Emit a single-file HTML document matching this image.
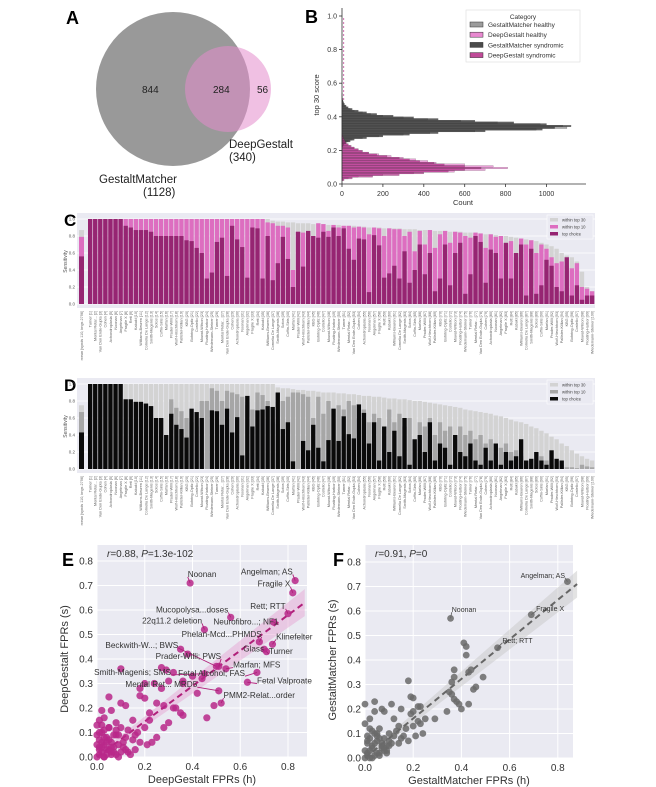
<!DOCTYPE html>
<html><head><meta charset="utf-8"><style>
html,body{margin:0;padding:0;background:#fff;}
svg{display:block;font-family:"Liberation Sans","DejaVu Sans",sans-serif;}
</style></head><body>
<svg id="fig" width="656" height="787" viewBox="0 0 656 787" xmlns="http://www.w3.org/2000/svg">
<g id="venn">
<text x="66" y="24" font-size="18" font-weight="bold">A</text>
<circle cx="173" cy="89" r="77" fill="#999999"/>
<circle cx="228" cy="89" r="43" fill="#e48ccc" opacity="0.55"/>
<text x="142" y="93" font-size="10" fill="#222">844</text>
<text x="213" y="93" font-size="10" fill="#222">284</text>
<text x="257" y="93" font-size="10" fill="#222">56</text>
<text x="229" y="148" font-size="11.5" fill="#222">DeepGestalt</text>
<text x="229" y="161" font-size="11.5" fill="#222">(340)</text>
<text x="99" y="183" font-size="11.5" fill="#222">GestaltMatcher</text>
<text x="143" y="196" font-size="11.5" fill="#222">(1128)</text>
</g>
<g id="hist"></g>
<g id="barC"></g>
<g id="barD"></g>
<g id="scE"></g>
<g id="scF"></g>
</svg>
<script>
// ---------- Panel B data ----------
const histBinWidth = 0.01;
const gmHealthyStart = 0.22;
const gmHealthy = [3,8,15,30,50,100,180,300,430,650,950,1100,1080,970,760,580,420,300,200,140,100,60,40,25,15,10,6,4,2,1,1,1];
const gmSyndStart = 0.22;
const gmSynd = [5,10,20,40,60,120,200,330,470,700,980,1040,1120,1000,840,650,470,350,250,170,120,80,50,30,20,12,8,5,3,2,1,1];
const dgHealthyStart = 0.02;
const dgHealthy = [5,30,80,200,350,550,700,810,740,600,460,420,360,300,240,180,130,100,80,60,40,30,20,12,8,5,3,2];
const dgSyndStart = 0.02;
const dgSynd = [10,50,150,280,400,520,600,680,600,500,450,380,330,280,220,170,130,100,80,60,45,30,20,15,10,6,4,2];
const histXTicks = [0,200,400,600,800,1000];
const histYTicks = [0.0,0.2,0.4,0.6,0.8,1.0];
const histLegend = ["GestaltMatcher healthy","DeepGestalt healthy","GestaltMatcher syndromic","DeepGestalt syndromic"];

// ---------- Panel C data ----------
const meanC = [0.87,0.79,0.56];
const t30C = [1,1,1,1,1,1,1,1,1,1, 1,1,1,1,1,1,1,1,1,1, 1,1,1,1,1,1,1,1,1,1, 1,1,1,1,1,1, .98,.97,.97,.96,.96,.95,.95,.95,.94,.94, .94,.93,.93,.93,.92,.92,.92,.91,.91,.9, .9,.9,.89,.89, .89,.89,.88,.88,.88,.87,.87,.87,.86,.86,.86,.85,.85,.85,.84,.84,.83,.83,.82,.82, .81,.8,.8,.79,.78,.77,.76,.75,.74,.72,.7,.68,.65,.6,.57,.55,.5,.38,.2,.15];
const t10C = [1,1,1,1,1,1,1,1,1,1, 1,1,1,1,1,1,1,1,1,1, 1,1,1,1,1,1,1,1,1,1, 1,1,1,1,1,.96,.95,.92,.92,.9, .4,.85,.84,.82,.8,.95,.94,.86,.93,.9, .92,.92,.9,.91,.9,.82,.9,.89,.8,.89, .88,.88,.8,.85,.62,.86,.7,.87,.66,.82, .86,.72,.85,.84,.8,.78,.84,.83,.66,.82, .79,.8,.7,.74,.55,.77,.7,.75,.6,.7, .65,.55,.48,.5,.45,.42,.48,.2,.18,.15];
const t1C = [1,1,1,1,1,1,1,.92,.9,.87, .87,.87,.85,.8,.8,.8,.8,.8,.8,.75, .74,.66,.6,.3,.37,.73,.78,.33,.92,.76, .67,.31,.9,.89,.3,.8,.28,.48,.79,.53, .2,.85,.44,.86,.8,.78,.85,.79,.9,.8, .89,.65,.52,.77,.76,.14,.81,.69,.31,.36, .45,.3,.62,.25,.4,.7,.35,.6,.15,.3, .7,.22,.6,.72,.12,.35,.8,.73,.25,.64, .6,.3,.72,.3,.6,.7,.1,.65,.12,.22, .52,.45,.2,.15,.55,.1,.22,.05,.1,.1];

// ---------- Panel D data ----------
const meanD = [0.75,0.67,0.43];
const t30D = [1,1,1,1,1,1,1,1,1,1, 1,1,1,1,1,1,1,1,1,1, 1,1,1,1,1,1,1,1,1,1, 1,1,1,1,1,1,1, .96,.95,.95,.94,.93,.93,.92,.92,.91,.9, .9,.9,.89,.89,.88,.88,.87,.86,.86,.85, .85,.84,.83,.83,.82,.82,.81,.8,.8,.79, .78,.77,.76,.75,.74,.73,.72,.7,.69,.68, .67,.66,.65,.63,.62,.6,.58,.56,.55,.53, .5,.48,.45,.42,.38,.35,.3,.27,.22,.18, .15,.12,.1];
const t10D = [1,1,1,1,1,1,1,.82,.82,.79, .79,.77,.74,.6,.6,.4,.82,.72,.68,.6, .55,.5,.8,.8,.95,.92,.8,.92,.9,.88, .85,.75,.7,.9,.87,.8,.55, .53,.8,.85,.9,.9,.88,.85,.6,.85,.65, .8,.7,.75,.7,.8,.75,.6,.7,.55,.65, .6,.5,.7,.55,.65,.5,.6,.3,.55,.5, .6,.4,.55,.45,.5,.35,.5,.4,.45,.35, .4,.3,.35,.3,.25,.3,.2,.22,.15,.1, .1,.05,.15,.1,.05,.08,.05,.02,.02,.01, .05,.03,.02];
const t1D = [1,1,1,1,1,1,1,.82,.82,.79, .79,.77,.74,.6,.6,.4,.65,.52,.47,.37, .71,.67,.6,0,.69,.68,.52,.71,.43,.61, .16,.86,.5,.69,.7,.74,.73, .9,.47,.55,.09,0,.33,.22,.52,.25,.09, .34,.71,.33,.62,.41,.36,.76,.66,.3,.55, .1,.5,.2,.45,.15,.6,.05,.35,.4,.2, .55,.1,.3,.25,.05,.4,.2,.15,.3,.1, .05,.25,.1,.3,.05,.2,.1,.15,.35,.1, .12,.2,.1,.05,.22,.12,.1,0,0,0, 0,0,0];
const sensTicks = [0.0,0.2,0.4,0.6,0.8,1.0];
const syndromeNames = ["Turner","Mental Retar...","Van Den Ende-Gupta","Cohen","Achondroplasia","Noonan","Angelman","Fragile X","Rett","Kabuki","Williams-Beuren","Cornelia De Lange","Smith-Magenis","Sotos","Coffin-Siris","Marfan","Prader-Willi","Wolf-Hirschhorn","Pallister-Killian","KBG","Bohring-Opitz","Costello","Mowat-Wilson","Floating-Harbor","Wiedemann-Steiner"];

// ---------- Panel E data ----------
const eH = [0.35,0.38,0.27,0.29,0.32,0.10,0.24,0.20,0.36,0.36,0.44,0.30,0.18,0.20,0.05,0.18,0.25,0.28,0.32,0.49,0.35,0.36,0.46,0.28,0.22,0.12,0.10,0.22,0.15,0.13,0.20,0.17,0.25,0.23,0.06,0.02,0.03,0.08,0.10,0.05,0.08,0.12,0.15,0.18,0.02,0.04,0.06,0.03,0.01,0.02,0.05,0.07,0.09,0.11,0.01,0.03,0.00,0.01,0.04,0.06,0.08,0.10,0.12,0.02,0.05,0.07,0.00,0.01,0.03,0.09,0.14,0.16,0.00,0.00,0.02,0.04,0.06,0.01,0.03,0.05,0.02,0.07,0.04,0.01,0.09,0.11,0.13,0.03,0.06,0.08,0.27,0.33,0.40,0.16,0.21,0.42,0.30];
const eS = [0.44,0.42,0.365,0.355,0.345,0.36,0.30,0.30,0.31,0.30,0.32,0.31,0.28,0.24,0.245,0.25,0.22,0.21,0.20,0.21,0.18,0.17,0.16,0.12,0.15,0.21,0.22,0.18,0.15,0.11,0.12,0.10,0.08,0.06,0.19,0.19,0.16,0.14,0.12,0.12,0.09,0.08,0.07,0.06,0.10,0.08,0.06,0.05,0.04,0.02,0.03,0.04,0.05,0.04,0.07,0.11,0.13,0.01,0.01,0.02,0.01,0.02,0.03,0.06,0.07,0.09,0.00,0.03,0.00,0.00,0.01,0.03,0.05,0.09,0.04,0.03,0.01,0.10,0.08,0.12,0.13,0.02,0.06,0.15,0.09,0.06,0.02,0.00,0.04,0.11,0.28,0.20,0.33,0.09,0.05,0.26,0.14];
const eNames = ["Noonan","Angelman; AS","Fragile X","Rett; RTT","Mucopolysa...doses","22q11.2 deletion","Neurofibro...; NF1","Phelan-Mcd...PHMDS","Klinefelter","Glass","Turner","Beckwith-W...; BWS","Prader-Willi; PWS","Marfan; MFS","Smith-Magenis; SMS","Fetal Alcohol; FAS","Fetal Valproate","Mental Ret... MRD5","PMM2-Relat...order"];
const eNamedH = [0.39,0.83,0.82,0.80,0.56,0.45,0.74,0.68,0.735,0.70,0.71,0.50,0.51,0.54,0.45,0.67,0.63,0.51,0.52];
const eNamedS = [0.71,0.72,0.67,0.585,0.57,0.52,0.55,0.47,0.46,0.44,0.43,0.37,0.37,0.36,0.34,0.345,0.305,0.27,0.22];
const eLabelX = [0.38,0.82,0.81,0.79,0.55,0.44,0.76,0.69,0.75,0.70,0.72,0.34,0.52,0.57,0.31,0.62,0.67,0.42,0.53];
const eLabelY = [0.735,0.745,0.695,0.605,0.59,0.545,0.54,0.49,0.48,0.43,0.42,0.445,0.40,0.365,0.335,0.33,0.30,0.285,0.24];
const eLabelAnchor = ["start","end","end","end","end","end","end","end","start","end","start","end","end","start","end","end","start","end","start"];
const eReg = [0.0,0.0,0.87,0.63];

// ---------- Panel F data ----------
const fH = [0.41,0.42,0.42,0.37,0.43,0.44,0.49,0.37,0.36,0.46,0.45,0.35,0.36,0.37,0.38,0.39,0.43,0.40,0.34,0.29,0.18,0.19,0.20,0.22,0.23,0.20,0.19,0.22,0.23,0.24,0.21,0.15,0.11,0.07,0.04,0.00,0.04,0.08,0.14,0.12,0.17,0.16,0.18,0.14,0.10,0.08,0.05,0.02,0.06,0.09,0.03,0.01,0.02,0.04,0.06,0.08,0.10,0.12,0.00,0.01,0.03,0.05,0.07,0.09,0.11,0.02,0.04,0.06,0.00,0.01,0.03,0.05,0.07,0.13,0.15,0.02,0.00,0.01,0.04,0.06,0.08,0.10,0.03,0.05,0.01,0.02,0.07,0.09,0.20,0.25];
const fS = [0.47,0.455,0.42,0.36,0.35,0.36,0.33,0.33,0.31,0.29,0.28,0.27,0.26,0.24,0.23,0.22,0.22,0.20,0.19,0.16,0.315,0.25,0.245,0.21,0.21,0.19,0.18,0.15,0.14,0.10,0.09,0.20,0.22,0.20,0.23,0.22,0.19,0.19,0.13,0.16,0.12,0.09,0.07,0.06,0.10,0.08,0.10,0.16,0.12,0.05,0.05,0.02,0.03,0.06,0.08,0.04,0.07,0.09,0.00,0.01,0.04,0.02,0.05,0.03,0.06,0.08,0.10,0.01,0.03,0.06,0.00,0.07,0.04,0.11,0.08,0.12,0.14,0.09,0.01,0.02,0.03,0.05,0.11,0.09,0.07,0.00,0.06,0.02,0.13,0.16];
const fNames = ["Angelman; AS","Noonan","Fragile X","Rett; RTT"];
const fNamedH = [0.84,0.355,0.69,0.55];
const fNamedS = [0.72,0.57,0.585,0.45];
const fLabelX = [0.83,0.36,0.71,0.57];
const fLabelY = [0.735,0.595,0.6,0.47];
const fLabelAnchor = ["end","start","start","start"];
const fReg = [0.0,0.0,0.88,0.71];
const fprTicks = [0.0,0.1,0.2,0.3,0.4,0.5,0.6,0.7,0.8];
const fprXTicks = [0.0,0.2,0.4,0.6,0.8];

const NS = "http://www.w3.org/2000/svg";
function mk(parent, tag, attrs, text){
  const el = document.createElementNS(NS, tag);
  for (const k in attrs) el.setAttribute(k, attrs[k]);
  if (text !== undefined) el.textContent = text;
  parent.appendChild(el);
  return el;
}

// ================= Panel B =================
(function(){
  const g = document.getElementById('hist');
  const x0 = 342, xPer = 0.2045, y0 = 184, yPer = 168;
  const X = v => x0 + v*xPer;
  const Y = v => y0 - v*yPer;
  const t = mk(g,'text',{x:305,y:23,'font-size':18,'font-weight':'bold'},'B');
  
  
  function series(arr, start, fill, op, name){
    arr.forEach((v,i)=>{
      const lo = start + i*histBinWidth;
      const r = mk(g,'rect',{x:X(0),y:Y(lo+histBinWidth),width:Math.max(0,X(v)-X(0)),height:yPer*histBinWidth,fill:fill,opacity:op,stroke:'#333','stroke-width':0.2});
      
      
    });
  }
  series(gmHealthy, gmHealthyStart, '#9c9c9c', 0.85, 'hist-bar-gm-healthy');
  series(dgHealthy, dgHealthyStart, '#e889d0', 0.8, 'hist-bar-dg-healthy');
  series(gmSynd, gmSyndStart, '#3c3c3c', 0.8, 'hist-bar-gm-syndromic');
  series(dgSynd, dgSyndStart, '#b02a86', 0.7, 'hist-bar-dg-syndromic');
  mk(g,'line',{x1:X(8),y1:Y(0.5),x2:X(8),y2:Y(1.0),stroke:'#d070b0','stroke-width':1,'stroke-dasharray':'2,2'});
  const ax = mk(g,'path',{d:`M${x0},8 V${y0} H586`,stroke:'#333','stroke-width':0.8,fill:'none'});
  
  
  histXTicks.forEach(v=>{
    mk(g,'line',{x1:X(v),y1:y0,x2:X(v),y2:y0+3,stroke:'#333','stroke-width':0.8});
    const tt = mk(g,'text',{x:X(v),y:y0+12,'font-size':7,'text-anchor':'middle',fill:'#333'},String(v));
    
    
  });
  histYTicks.forEach(v=>{
    mk(g,'line',{x1:x0-3,y1:Y(v),x2:x0,y2:Y(v),stroke:'#333','stroke-width':0.8});
    const tt = mk(g,'text',{x:x0-5,y:Y(v)+2.5,'font-size':7,'text-anchor':'end',fill:'#333'},v.toFixed(1));
    
    
  });
  const xl = mk(g,'text',{x:463,y:205,'font-size':7.5,'text-anchor':'middle',fill:'#333'},'Count');
  
  
  const yl = mk(g,'text',{x:0,y:0,'font-size':7.5,'text-anchor':'middle',fill:'#333',transform:'translate(319,95) rotate(-90)'},'top 30 score');
  
  
  const lg = mk(g,'g',{});
  
  
  mk(lg,'rect',{x:466,y:10,width:114,height:52,fill:'#fff',stroke:'#ddd','stroke-width':0.6});
  mk(lg,'text',{x:523,y:19,'font-size':6.5,'text-anchor':'middle',fill:'#333'},'Category');
  const cols = ['#9c9c9c','#e889d0','#4a4a4a','#c04a98'];
  histLegend.forEach((s,i)=>{
    const yy = 22 + i*10.2;
    const r = mk(lg,'rect',{x:470,y:yy,width:13,height:5,fill:cols[i],stroke:'#333','stroke-width':0.5});
    
    
    const tt = mk(lg,'text',{x:488,y:yy+5,'font-size':6.5,fill:'#333'},s);
    
    
  });
})();

// ================= Panels C / D =================
function barPanel(id, label, top, y0, mean, t30, t10, t1, cols){
  const g = document.getElementById(id);
  const bgL = 77, bgR = 595, x0 = 88, step = (595-88)/t30.length, bw = step*0.86;
  const h = 85;
  const Y = v => y0 - v*h;
  const pl = mk(g,'text',{x:64,y:top+13,'font-size':17,'font-weight':'bold'},label);
  
  
  const bg = mk(g,'rect',{x:bgL,y:top,width:bgR-bgL,height:y0-top+4,fill:'#eaeaf2'});
  
  
  sensTicks.forEach(v=>{
    mk(g,'line',{x1:bgL,y1:Y(v),x2:bgR,y2:Y(v),stroke:'#fff','stroke-width':0.8});
    const tt = mk(g,'text',{x:bgL-2,y:Y(v)+1.5,'font-size':4.5,'text-anchor':'end',fill:'#555'},v.toFixed(1));
    
    
  });
  const yl = mk(g,'text',{x:0,y:0,'font-size':5,'text-anchor':'middle',fill:'#555',transform:`translate(67,${Y(0.5)}) rotate(-90)`},'Sensitivity');
  
  
  function drawBar(x, w, vals, name){
    [0,1,2].forEach(k=>{
      const v = vals[k];
      const r = mk(g,'rect',{x:x,y:Y(v),width:w,height:v*h,fill:cols[k]});
      
      
    });
  }
  drawBar(79, 5, mean, 'bar-mean');
  t30.forEach((v,i)=>{
    drawBar(x0 + i*step, bw, [v, t10[i], t1[i]], 'bar-'+i);
    const nm = syndromeNames[i % syndromeNames.length] + ' [' + (i+1) + ']';
    const tx = x0 + i*step + bw/2 + 1.3;
    const tt = mk(g,'text',{x:0,y:0,'font-size':3.8,'text-anchor':'end',fill:'#666',transform:`translate(${tx},${y0+7}) rotate(-90)`},nm);
    
    
  });
  const mt = mk(g,'text',{x:0,y:0,'font-size':3.8,'text-anchor':'end',fill:'#666',transform:`translate(83,${y0+7}) rotate(-90)`},'mean [synds 110, imgs 2796]');
  
  
  const lg = mk(g,'g',{});
  
  
  mk(lg,'rect',{x:547,y:top+2,width:46,height:24,fill:'#eaeaf2',stroke:'#fff','stroke-width':0.5});
  ['within top 30','within top 10','top choice'].forEach((s,i)=>{
    const r = mk(lg,'rect',{x:550,y:top+5+i*7,width:8,height:3.5,fill:cols[i]});
    
    
    const tt = mk(lg,'text',{x:562,y:top+8.5+i*7,'font-size':4.2,fill:'#444'},s);
    
    
  });
}
barPanel('barC','C',213,304,meanC,t30C,t10C,t1C,['#d3d3d3','#dd6ec0','#962572']);
barPanel('barD','D',378,469,meanD,t30D,t10D,t1D,['#d3d3d3','#a6a6a6','#0a0a0a']);

// ================= Panels E / F =================
function scatterPanel(id, label, o){
  const g = document.getElementById(id);
  const X = v => o.x0 + v*o.xs;
  const Y = v => o.y0 - v*o.ys;
  const bg = mk(g,'rect',{x:o.x0,y:545,width:o.right-o.x0,height:o.y0-545,fill:'#eaeaf2'});
  
  
  fprTicks.forEach(v=>{
    mk(g,'line',{x1:o.x0,y1:Y(v),x2:o.right,y2:Y(v),stroke:'#fff','stroke-width':1});
    const tt = mk(g,'text',{x:o.x0-4,y:Y(v)+3.5,'font-size':10,'text-anchor':'end',fill:'#333'},v.toFixed(1));
    
    
  });
  fprXTicks.forEach(v=>{
    mk(g,'line',{x1:X(v),y1:545,x2:X(v),y2:o.y0,stroke:'#fff','stroke-width':1});
    const tt = mk(g,'text',{x:X(v),y:o.y0+13,'font-size':10,'text-anchor':'middle',fill:'#333'},v.toFixed(1));
    
    
  });
  const [rx0,ry0,rx1,ry1] = o.reg;
  const band = mk(g,'polygon',{points:`${X(rx0)},${Y(ry0+0.01)} ${X(rx1)},${Y(ry1+0.055)} ${X(rx1)},${Y(ry1-0.055)} ${X(rx0)},${Y(ry0-0.01)}`,fill:o.band,opacity:0.5});
  
  
  const rl = mk(g,'line',{x1:X(rx0),y1:Y(ry0),x2:X(rx1),y2:Y(ry1),stroke:o.line,'stroke-width':2,'stroke-dasharray':'6,4'});
  
  
  o.h.forEach((v,i)=>{
    const c = mk(g,'circle',{cx:X(v),cy:Y(o.s[i]),r:o.r,fill:o.pt,opacity:0.85});
    
    
  });
  o.nh.forEach((v,i)=>{
    const c = mk(g,'circle',{cx:X(v),cy:Y(o.ns[i]),r:o.r,fill:o.pt,opacity:0.85});
    
    
    const lx = X(o.lx[i]), ly = Y(o.ly[i]);
    const ln = mk(g,'line',{x1:lx,y1:ly,x2:X(v),y2:Y(o.ns[i]),stroke:o.line,'stroke-width':0.9});
    
    
    const tt = mk(g,'text',{x:lx,y:ly,'font-size':o.fs,'text-anchor':o.la[i],fill:'#333'},o.names[i]);
    
    
  });
  const pl = mk(g,'text',{x:o.plx,y:566,'font-size':18,'font-weight':'bold'},label);
  
  
  const st = mk(g,'text',{x:o.x0+10,y:557,'font-size':10,fill:'#333'});
  
  
  st.innerHTML = o.stat;
  const xl = mk(g,'text',{x:(o.x0+o.right)/2,y:o.y0+26,'font-size':11,'text-anchor':'middle',fill:'#333'},o.xlab);
  
  
  const yl = mk(g,'text',{x:0,y:0,'font-size':11,'text-anchor':'middle',fill:'#333',transform:`translate(${o.x0-29},${Y(0.4)}) rotate(-90)`},o.ylab);
  
  
}
scatterPanel('scE','E',{x0:97,xs:238.75,y0:757,ys:245,right:307,reg:eReg,band:'#e6a6d4',line:'#b0207a',pt:'#b8288a',r:3.6,
  h:eH,s:eS,nh:eNamedH,ns:eNamedS,lx:eLabelX,ly:eLabelY,la:eLabelAnchor,names:eNames,fs:8.2,plx:62,
  stat:'<tspan font-style="italic">r</tspan>=0.88, <tspan font-style="italic">P</tspan>=1.3e-102',
  xlab:'DeepGestalt FPRs (h)',ylab:'DeepGestalt FPRs (s)'});
scatterPanel('scF','F',{x0:365,xs:241,y0:758,ys:245,right:573,reg:fReg,band:'#c8c8c8',line:'#666',pt:'#6a6a6a',r:3.4,
  h:fH,s:fS,nh:fNamedH,ns:fNamedS,lx:fLabelX,ly:fLabelY,la:fLabelAnchor,names:fNames,fs:7,plx:333,
  stat:'<tspan font-style="italic">r</tspan>=0.91, <tspan font-style="italic">P</tspan>=0',
  xlab:'GestaltMatcher FPRs (h)',ylab:'GestaltMatcher FPRs (s)'});
</script>
</body></html>
